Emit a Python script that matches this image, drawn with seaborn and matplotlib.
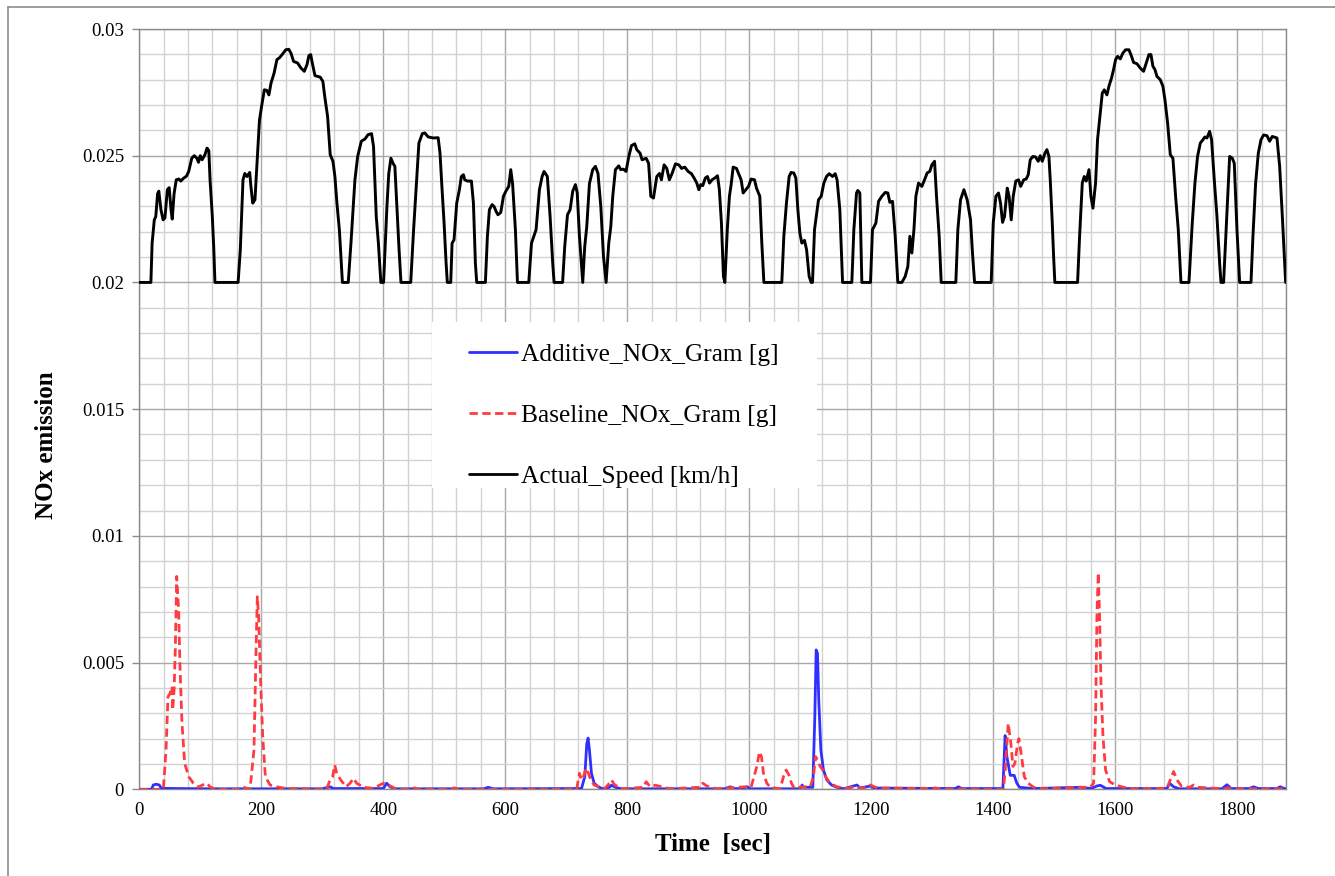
import matplotlib
matplotlib.use("Agg")
import matplotlib.pyplot as plt
from matplotlib.ticker import MultipleLocator, FuncFormatter
from matplotlib.lines import Line2D
from matplotlib.patches import Rectangle
import pandas as pd
import seaborn as sns

# ---- Vehicle speed trace (time [s], speed [km/h]) ----
speed_time = [
    0, 19, 21, 24.6, 27, 30, 32, 35.5, 39, 42, 46, 49, 52, 54, 57, 60.6, 65, 68, 72, 77.6,
    81, 86, 90, 94.5, 97, 100, 103, 107.6, 111, 114, 116, 119.7, 122, 124,
    162, 165.6, 170, 173, 176.5, 181, 183, 186, 189.6, 193, 197, 200.5, 205, 209, 212.5, 216,
    221, 225.6, 230, 235.5, 240, 245, 248.6, 253, 259.5, 265, 270.5, 275, 278, 281, 283.6, 288,
    296.7, 301, 304, 308.7, 313, 317.5, 320.7, 324, 328, 333,
    342.6, 347, 353.5, 358, 364, 370, 375, 380.8, 384, 388.5, 392, 396,
    400.5, 406, 409, 412.5, 416, 419, 422, 425.6, 429,
    445, 449.7, 455, 458.4, 464, 468, 473.7, 482, 490, 493, 496.4, 499.7, 503, 505,
    510.6, 512.8, 516, 520.4, 524.8, 528, 531.4, 533.5, 538, 544.5, 547.8, 551, 553.2,
    567.4, 570.7, 574, 578.4, 581.6, 585, 588, 592.6, 597, 601, 605.7, 609, 612, 616.6, 620,
    638.5, 643, 650.5, 656, 660.4, 663.6, 669, 673.5, 677.8, 680,
    694, 697.5, 702, 706.3, 710.6, 715, 718, 721.6, 727, 730.3, 733.6, 738, 743.4, 747.8, 752,
    756.6, 761, 765.3, 769.7, 773, 776.2, 780.6, 786, 789.3, 793.7, 798, 802.5, 807, 812.3,
    815.6, 821, 824.3, 831, 835, 838.6, 843, 848.4, 852.8, 856, 860.4, 864.8, 869, 873.5, 879,
    884.5, 889, 894.3, 899.8, 905.2, 909.6, 914, 917.3, 920.5, 923.8, 928, 931.5, 934.8, 939,
    943.5, 948, 951, 954.4, 957.7, 960, 964, 967.5, 970.3, 973.6, 979, 982.4, 986.7, 990,
    994.4, 998.8, 1003, 1008.6, 1011.9, 1017.3, 1020.6, 1024,
    1053.4, 1056.7, 1061, 1065.4, 1068.7, 1073, 1076.4, 1079.7, 1083, 1086.2, 1090.6, 1094,
    1098.2, 1101.5, 1103.7, 1107, 1113.5, 1118, 1122.3, 1126.7, 1131, 1136.5, 1140.9, 1144,
    1148.5, 1153,
    1168.2, 1171.5, 1175.9, 1178, 1181.3, 1184.6,
    1198.8, 1202, 1207.6, 1212, 1217.4, 1222.9, 1227.2, 1230.5, 1234.9, 1239.3, 1243.6,
    1250.2, 1255.7, 1260, 1263.3, 1266.6, 1270, 1273.2, 1277.5, 1283, 1287.4, 1291.7, 1296,
    1299.4, 1303.8, 1307, 1311.4, 1314.7,
    1338.7, 1342, 1346.4, 1351.9, 1357.3, 1362.8, 1366, 1369.4,
    1396.7, 1400, 1404.4, 1408.7, 1412, 1415.3, 1418.5, 1423, 1426, 1429.5, 1432.8, 1437,
    1441.5, 1445, 1450, 1454, 1457.4, 1460.7, 1465, 1469.4, 1473.8, 1477, 1480.4, 1484.8,
    1488, 1491.3, 1493.5, 1496.8, 1499, 1501,
    1538.3, 1541.6, 1546, 1549.2, 1552.5, 1557, 1560.2, 1563.5, 1567.8, 1571, 1575.5, 1578.8,
    1582, 1586.4, 1589.7, 1594, 1597.3, 1600.6, 1603.9, 1608.3, 1612.6, 1617, 1622.5, 1626.8,
    1630.1, 1635.6, 1641, 1646.5, 1650.9, 1655.3, 1658.6, 1661.8, 1665.1, 1668.4, 1673.9,
    1678.2, 1681.5, 1685.9, 1690.3, 1694.6, 1699, 1703.4, 1707.8,
    1720.9, 1726.3, 1730.7, 1735, 1739.5, 1743.8, 1747, 1750.4, 1754.8, 1758, 1762.4, 1766.8,
    1771.2, 1773.4, 1777.7, 1783.2, 1787.6, 1792, 1795.2, 1799.6, 1804,
    1822.6, 1825.8, 1830.2, 1834.6, 1839, 1843.3, 1848.8, 1853.1, 1857.5, 1865.2, 1869.6,
    1874, 1879.4,
]
speed_kmh = [
    0, 0, 15.5, 24.7, 26, 35, 36, 28.7, 24.7, 25.4, 36.6, 37.4, 28.7, 25, 35, 40.5, 40.8, 40, 41, 42,
    43.8, 49, 50, 49, 47.4, 50, 48.4, 50.4, 53, 52, 40.5, 26, 14, 0,
    0, 12.9, 40.5, 43, 41.8, 43.4, 37.9, 31.3, 32.6, 47, 64, 69.5, 76, 75.8, 74, 78.7,
    82.6, 87.9, 88.7, 90.3, 91.8, 92, 90.5, 87.2, 86.6, 84.6, 83.3, 86, 89.5, 89.9, 86.6, 81.6,
    81, 79.3, 73.4, 65.5, 50.4, 47.8, 41.8, 31.3, 20.8, 0,
    0, 15.5, 40.5, 49.7, 55.7, 56.6, 58.3, 58.7, 53.7, 26, 15.5, 0,
    0, 30, 43, 49, 47, 45.8, 31.3, 14.2, 0,
    0, 20.8, 41.8, 55, 58.7, 59, 57.4, 57, 57.1, 51, 36.6, 23.4, 7.6, 0,
    0, 15.5, 16.8, 31.3, 36.6, 41.8, 42.5, 40.5, 40, 40, 31.3, 7.6, 0,
    0, 18.2, 28.7, 30.7, 30, 28, 26.7, 27.6, 34, 36, 37.9, 44.5, 39, 20.8, 0,
    0, 15.5, 20.8, 36.6, 41.8, 43.8, 41.8, 26, 7.6, 0,
    0, 14.2, 26.7, 28.7, 36, 38.6, 35.3, 18.2, 0, 14.2, 22, 39, 44.5, 45.8, 43,
    30, 10.3, 0, 15.5, 22, 34, 44.5, 46, 44.5, 44.7, 43.8, 49.7, 54, 54.7,
    52.4, 51, 48.4, 49, 47, 34, 33.3, 41.8, 43, 40.5, 46.4, 45, 40.5, 43, 46.8,
    46.4, 45, 45.5, 43.8, 42.9, 41.2, 39.2, 36.6, 38.6, 38.2, 41.2, 41.8, 39.2, 40.5,
    41.2, 42.1, 36.6, 23.4, 2.4, 0, 20.8, 34, 38.6, 45.5, 45, 43, 40.5, 35.3,
    36.6, 37.9, 40.8, 40.5, 37.2, 34, 15.5, 0,
    0, 18.2, 31.3, 41.8, 43.4, 43.2, 41.2, 28.7, 19.5, 15.5, 16.6, 12.9,
    2.4, 0, 0, 20.8, 32.6, 34, 39.2, 41.8, 42.9, 41.8, 42.9, 40.5,
    28.7, 0,
    0, 20.8, 35.3, 36.3, 35.3, 0,
    0, 20.8, 23.4, 32, 34, 35.5, 35.3, 31.6, 32, 18.2, 0,
    0, 2.4, 6.3, 18.2, 11.6, 20.8, 34, 39.2, 37.9, 40.5, 43.2, 43.8,
    46.4, 47.8, 34, 18.2, 0,
    0, 20.8, 32.6, 36.6, 32.6, 24.7, 11.6, 0,
    0, 23.4, 34, 35.3, 31.3, 23.7, 26, 37.2, 34, 24.7, 34, 40,
    40.5, 37.9, 40.5, 40.8, 42.5, 48.4, 49.7, 49.5, 47.8, 50, 47.8, 51,
    52.4, 49.7, 40.5, 23.4, 10.3, 0,
    0, 18.2, 39.2, 41.8, 40, 44.5, 34, 29.3, 39.2, 56.3, 66.8, 74.7,
    76, 74, 77.4, 80.7, 84, 87.9, 89.2, 88.2, 90.5, 91.8, 91.8, 89.2,
    86.8, 86.3, 84.6, 83.3, 86.6, 89.9, 89.9, 85.3, 84, 81.3, 80,
    77.4, 72.1, 62.9, 50.4, 49, 34, 20.8, 0,
    0, 23.4, 39.2, 49.7, 55, 56.3, 57.4, 57, 59.6, 56.3, 40.5, 26,
    7.6, 0, 0, 27.4, 49.7, 49, 47, 20.8, 0,
    0, 18.2, 39.2, 51, 56.3, 58.2, 57.9, 55.7, 57.6, 57, 45.8,
    26, 0,
]

# ---- Baseline NOx per second [g] ----
baseline_time = [
    0, 39.4, 43.8, 47, 50.3, 53.6, 54.7, 57, 59, 61.3, 64.5, 66.7, 70, 74.4, 81, 88.6, 96.3,
    102.8, 110.5, 116, 124.7, 165, 168.4, 181.5, 188, 191.4, 193.5, 195.7, 199, 202.3, 206.7,
    214.3, 225.2, 241.6, 307, 312.7, 317, 320.4, 323.6, 330.2, 339, 345.5, 351, 356.4, 367.4,
    383.8, 400.2, 408.4, 422, 445, 451, 458, 510, 516, 523, 645, 651, 658, 690, 695, 700,
    717, 721.6, 724.9, 728.2, 732.5, 736.4, 740.2, 745.7, 755.5, 763.1, 770.8, 774, 779.5,
    793.8, 826.6, 831, 837.5, 846.2, 870.3, 919.5, 923.8, 930.4, 946.8, 993.3, 1003, 1012.4,
    1016.8, 1020, 1023.3, 1028.8, 1034.3, 1050.7, 1056.1, 1060.5, 1064.9, 1069.2, 1073.6,
    1088.9, 1099.9, 1105.3, 1108.6, 1111.9, 1116.3, 1120.6, 1125, 1132.6, 1143.6, 1160,
    1173.6, 1185, 1198.3, 1210, 1300, 1305, 1310, 1416.8, 1419.6, 1424.6, 1429, 1432.3,
    1435.5, 1439.9, 1442.1, 1446.5, 1450.9, 1457.4, 1466.2, 1482.6, 1542.7, 1559, 1564.6,
    1567.8, 1570, 1572.2, 1574.4, 1576.6, 1579.9, 1584.2, 1590.8, 1600.1, 1613.7, 1630.1,
    1684.8, 1690.3, 1695.7, 1701.2, 1709.4, 1722, 1728.5, 1735, 1780, 1785, 1790, 1880,
]
baseline_g = [
    0, 0, 0.00155, 0.00365, 0.00378, 0.00405, 0.00313, 0.0039, 0.0055, 0.0084, 0.00707,
    0.00484, 0.0026, 0.00102, 0.0005, 0.00024, 0.00008, 0.00016, 0.00024, 0.0001, 0, 0,
    0.0001, 0, 0.00155, 0.0055, 0.0076, 0.0068, 0.0042, 0.0021, 0.0005, 0.00017, 0.0001,
    0.00003, 0, 0.00037, 0.0005, 0.00096, 0.00063, 0.00037, 0.0001, 0.00024, 0.00043,
    0.00024, 0.00008, 0.00004, 0.00024, 0.00017, 0, 0, 0.00006, 0, 0, 0.00006, 0, 0, 0.00006,
    0, 0, 0.00006, 0,
    0, 0.00063, 0.00037, 0.0005, 0.00083, 0.00063, 0.00037, 0.00017, 0.00008, 0.00003,
    0.00024, 0.00037, 0.00017, 0.00002, 0.00008, 0.0003, 0.0001, 0.00016, 0.00002, 0.00008,
    0.00024, 0.00013, 0.00002, 0.0001, 0.00008, 0.0009, 0.00148, 0.00129, 0.00063, 0.00024,
    0.00008, 0.00002, 0.0005, 0.00076, 0.00057, 0.00024, 0.00005, 0.0001, 0.00008, 0.0005,
    0.00129, 0.00116, 0.0009, 0.00076, 0.0005, 0.00024, 0.0001, 0.00004, 0.0001, 0.00003,
    0.00017, 0.00005, 0.00003, 0.00006, 0.00002, 0, 0.00076, 0.0026, 0.0018, 0.0009, 0.00102,
    0.0018, 0.002, 0.00129, 0.0005, 0.00024, 0.00008, 0.00002, 0.00008, 0.00008, 0.00024,
    0.00286, 0.0068, 0.00855, 0.0068, 0.0042, 0.0021, 0.00076, 0.0003, 0.00017, 0.00008,
    0.00002, 0.00004, 0.00037, 0.0007, 0.00037, 0.0001, 0.00008, 0.00017, 0.00008, 0.00002,
    0.00006, 0.00002, 0.00002,
]

# ---- Additive NOx per second [g] ----
additive_time = [
    0, 20, 23, 27.4, 32.8, 36, 60, 120, 300, 312.7, 318, 400, 405.6, 411, 420, 565, 572, 580,
    725, 730.4, 733.6, 735.8, 738, 741.3, 745.7, 752.2, 760, 770.8, 774, 780.6, 790, 960,
    968.7, 975, 990, 996, 1002, 1083.5, 1086.7, 1089, 1104.2, 1107.5, 1109.7, 1111.9, 1114,
    1117.4, 1121.7, 1127.2, 1134.8, 1143.6, 1155, 1170.9, 1176.4, 1182, 1198.3, 1205, 1338,
    1343.1, 1348, 1415.8, 1419.5, 1422.4, 1427.9, 1434.4, 1438.7, 1443.1, 1466, 1542.7, 1560,
    1570, 1575.5, 1585, 1684.8, 1689.2, 1695.7, 1705, 1775, 1783.2, 1790, 1820, 1826.9, 1835,
    1865, 1870.6, 1876, 1880,
]
additive_g = [
    0, 0, 0.00017, 0.0002, 0.00017, 0.00004, 0.00003, 0.00002, 0.00002, 0.0001, 0.00003,
    0.00003, 0.00024, 0.0001, 0.00002, 0.00002, 0.00008, 0.00002, 0.00003, 0.0005, 0.0018,
    0.00202, 0.00155, 0.00063, 0.00024, 0.0001, 0.00002, 0.00008, 0.00016, 0.00008, 0.00002,
    0.00002, 0.0001, 0.00003, 0.00002, 0.0001, 0.00002, 0.00002, 0.00017, 0.00008, 0.00008,
    0.00286, 0.0055, 0.00536, 0.0035, 0.00155, 0.00076, 0.00037, 0.00017, 0.00008, 0.00002,
    0.00013, 0.00017, 0.00005, 0.00013, 0.00005, 0.00003, 0.0001, 0.00003, 0.00003, 0.00212,
    0.00129, 0.00055, 0.00055, 0.00024, 0.00008, 0.00003, 0.00008, 0.00003, 0.00013, 0.00016,
    0.00003, 0.00003, 0.00024, 0.0001, 0.00002, 0.00002, 0.00018, 0.00003, 0.00003, 0.0001,
    0.00003, 0.00003, 0.0001, 0.00004, 0.00002,
]

legend_labels = ["Additive_NOx_Gram [g]", "Baseline_NOx_Gram [g]", "Actual_Speed [km/h]"]
line_colors = ["#2F2FFF", "#FF3B42", "#000000"]
x_ticks = [0, 200, 400, 600, 800, 1000, 1200, 1400, 1600, 1800]
y_ticks = [0, 0.005, 0.01, 0.015, 0.02, 0.025, 0.03]

speed_df = pd.DataFrame({"time": speed_time, "speed": speed_kmh})
base_df = pd.DataFrame({"time": baseline_time, "nox": baseline_g})
add_df = pd.DataFrame({"time": additive_time, "nox": additive_g})

sns.set_theme(style="white")
plt.rcParams["font.family"] = ["Liberation Serif", "DejaVu Serif"]
plt.rcParams["text.color"] = "black"
plt.rcParams["axes.labelcolor"] = "black"

W, H = 1335, 876
fig = plt.figure(figsize=(W / 100, H / 100), dpi=100)
L, R, T, B = 139.3, 1286.0, 29.0, 789.3
ax = fig.add_axes([L / W, (H - B) / H, (R - L) / W, (B - T) / H])

sns.lineplot(data=add_df, x="time", y="nox", ax=ax, color=line_colors[0], lw=2.0,
             sort=False, estimator=None, zorder=3)
sns.lineplot(data=base_df, x="time", y="nox", ax=ax, color=line_colors[1], lw=2.0,
             linestyle=(0, (3, 1.6)), sort=False, estimator=None, zorder=4)

ax.set_xlim(0, 1880)
ax.set_ylim(0, 0.03)
ax.set_xticks(x_ticks)
ax.set_yticks(y_ticks)
ax.xaxis.set_minor_locator(MultipleLocator(40))
ax.yaxis.set_minor_locator(MultipleLocator(0.001))
ax.yaxis.set_major_formatter(FuncFormatter(lambda v, p: f"{v:g}"))
ax.grid(which="major", color="#a8a8a8", lw=1.0, zorder=0)
ax.grid(which="minor", color="#d2d2d2", lw=1.0, zorder=0)
ax.set_axisbelow(True)
ax.tick_params(which="major", direction="out", length=5, width=1, color="#8a8a8a",
               labelsize=13.5, labelcolor="black", pad=4)
ax.tick_params(which="minor", length=0)
ax.tick_params(axis="y", pad=6)
for s in ax.spines.values():
    s.set_color("#8a8a8a")
    s.set_linewidth(1.0)

ax.set_xlabel("Time  [sec]", fontsize=18, fontweight="bold", color="black")
ax.set_ylabel("NOx emission", fontsize=18, fontweight="bold", color="black")
ax.xaxis.set_label_coords(0.5, -0.058)
ax.yaxis.set_label_coords(-0.071, 0.452)

# Speed on a hidden secondary scale: 0 km/h sits at 0.02, 100 km/h spans 0.01
ax2 = ax.twinx()
sns.lineplot(data=speed_df, x="time", y="speed", ax=ax2, color=line_colors[2], lw=2.1,
             sort=False, estimator=None, zorder=2)
ax2.set_ylim(-200, 100)
ax2.set_xlim(0, 1880)
ax2.set_ylabel("")
ax2.set_yticks([])
for s in ax2.spines.values():
    s.set_visible(False)

# Legend panel
ax2.add_patch(Rectangle((432 / W, (H - 488) / H), 385 / W, 166 / H, transform=fig.transFigure,
                        facecolor="white", edgecolor="none", zorder=5))
handles = [
    Line2D([], [], color=line_colors[0], lw=2.0),
    Line2D([], [], color=line_colors[1], lw=2.0, linestyle=(0, (3, 1.6))),
    Line2D([], [], color=line_colors[2], lw=2.0),
]
leg = ax2.legend(handles, legend_labels, loc="upper left",
                 bbox_to_anchor=((469 - L) / (R - L), (B - 343) / (B - T)),
                 frameon=False, fontsize=18.3, handlelength=1.88, handletextpad=0.16,
                 labelspacing=1.5, borderpad=0, borderaxespad=0, labelcolor="black")
leg.set_zorder(6)

# Outer chart border
fig.add_artist(Line2D([8 / W, 8 / W], [0, 1 - 7 / H], transform=fig.transFigure,
                      color="#8c8c8c", lw=1.2))
fig.add_artist(Line2D([8 / W, 1], [1 - 7 / H, 1 - 7 / H], transform=fig.transFigure,
                      color="#8c8c8c", lw=1.2))

fig.savefig("out.png", dpi=100)
